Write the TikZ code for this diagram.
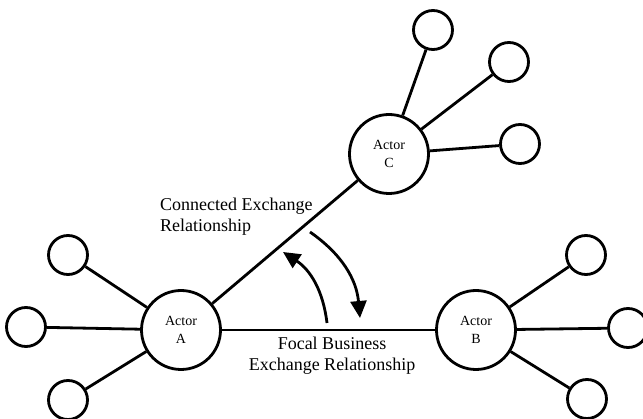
\documentclass[tikz,border=0pt]{standalone}
\usepackage{fontspec}
\setmainfont{Liberation Serif}
\usetikzlibrary{arrows.meta}
\tikzset{
  actor/.style={circle, draw, line width=2.8pt, minimum size=79pt, inner sep=0pt,
    align=center, font=\fontsize{14}{18}\selectfont},
  peer/.style={circle, draw, line width=2.8pt, minimum size=39pt, inner sep=0pt},
  link/.style={line width=2.8pt},
  turn/.style={line width=2.8pt, -{Triangle[length=17pt,width=16pt]}},
  rellabel/.style={font=\fontsize{18}{21}\selectfont, inner sep=0pt}
}
\begin{document}
\begin{tikzpicture}[x=1pt,y=-1pt]
		\useasboundingbox (0,0) rectangle (643,419);
		
		% the three actors
		\node[actor] (A) at (181,330) {Actor\\A};
		\node[actor] (B) at (476,330) {Actor\\B};
		\node[actor] (C) at (389,154) {Actor\\C};
		
		% other parties round each actor
		\node[peer] (a1) at (68,255) {};
		\node[peer] (a2) at (26,327) {};
		\node[peer] (a3) at (68,400) {};
		
		\node[peer] (b1) at (586,255) {};
		\node[peer] (b2) at (628,328) {};
		\node[peer] (b3) at (587,399) {};
		
		\node[peer] (c1) at (433,30) {};
		\node[peer] (c2) at (509,62) {};
		\node[peer] (c3) at (520,144) {};
		
		\draw[link] (A) -- (a1) (A) -- (a2) (A) -- (a3);
		\draw[link] (B) -- (b1) (B) -- (b2) (B) -- (b3);
		\draw[link] (C) -- (c1) (C) -- (c2) (C) -- (c3);
		
		% relationships
		\draw[link] (A) -- (B);
		\draw[link] (A) -- (C);
		
		\node[rellabel, anchor=west, align=left] (conn) at (160,217)
		  {Connected Exchange\\Relationship};
		\node[rellabel, align=center] (focal) at (332,356)
		  {Focal Business\\Exchange Relationship};
		
		% arrows between the two relationships
		\coordinate (up0) at (327,323);
		\coordinate (up1) at (283,252);
		\coordinate (dn0) at (310,232);
		\coordinate (dn1) at (360,318);
		
		\draw[turn] (up0) to[bend right=25] (up1);
		\draw[turn] (dn0) to[bend left=25] (dn1);
	\end{tikzpicture}
\end{document}
